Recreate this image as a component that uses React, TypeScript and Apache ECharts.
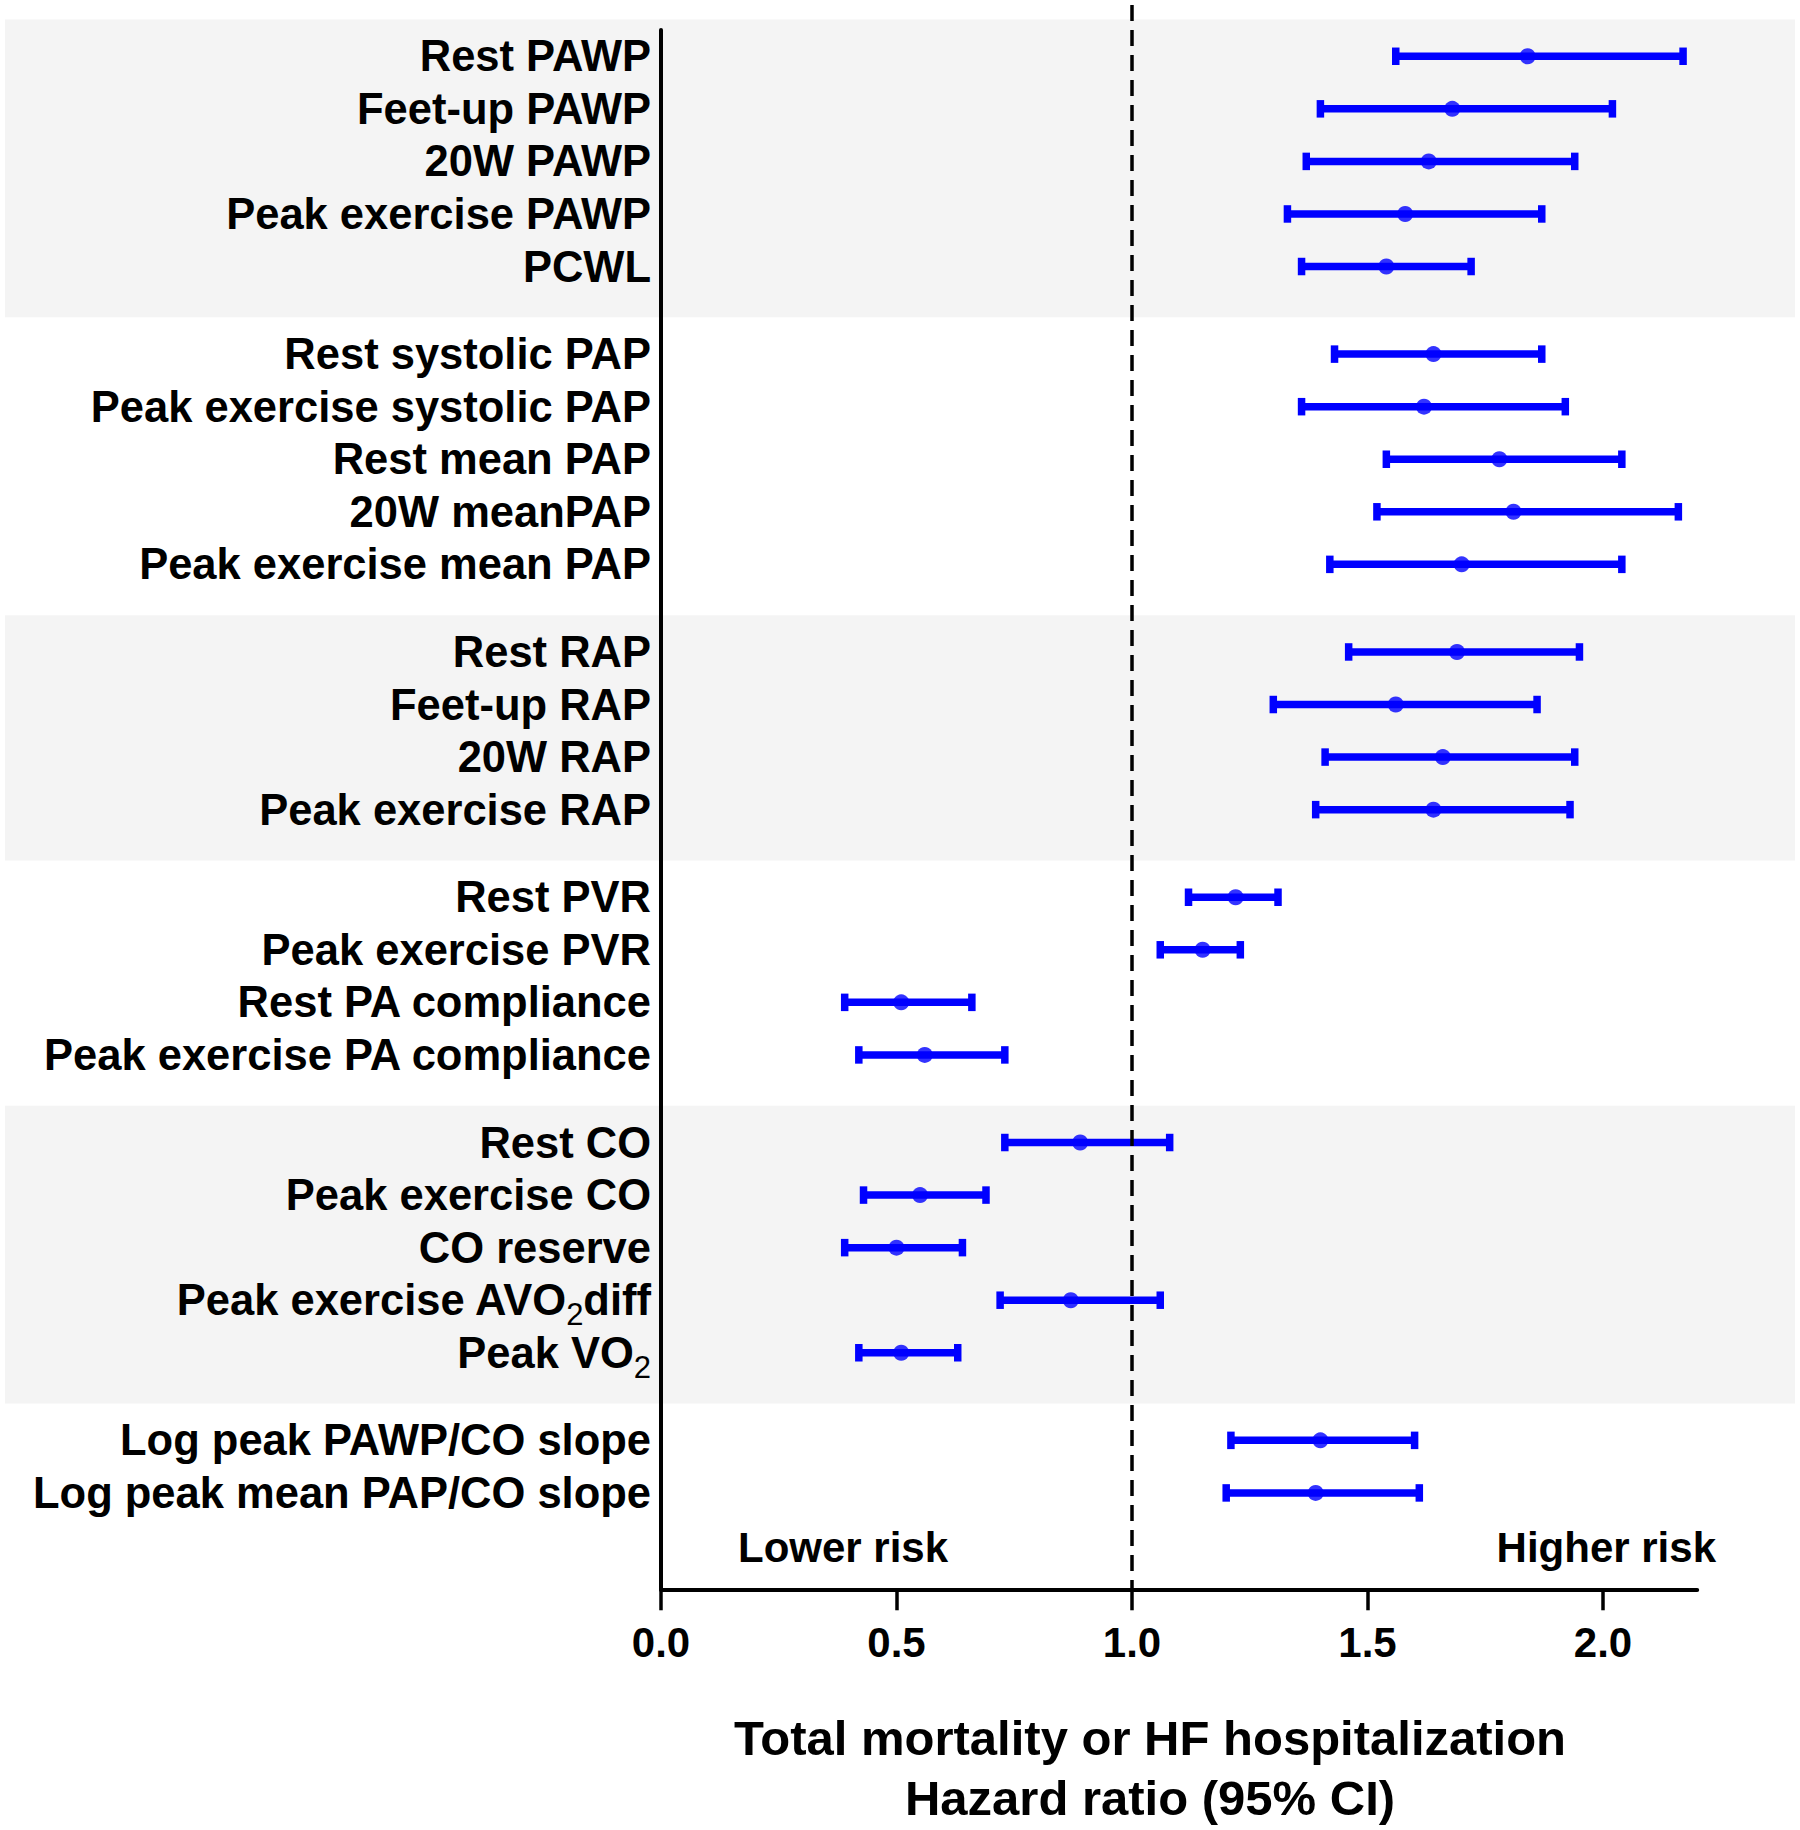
import React, { useEffect, useRef } from 'react';
import * as echarts from 'echarts';

const labels = [
  'Rest PAWP', 'Feet-up PAWP', '20W PAWP', 'Peak exercise PAWP', 'PCWL',
  'Rest systolic PAP', 'Peak exercise systolic PAP', 'Rest mean PAP', '20W meanPAP', 'Peak exercise mean PAP',
  'Rest RAP', 'Feet-up RAP', '20W RAP', 'Peak exercise RAP',
  'Rest PVR', 'Peak exercise PVR', 'Rest PA compliance', 'Peak exercise PA compliance',
  'Rest CO', 'Peak exercise CO', 'CO reserve', 'Peak exercise AVO₂diff', 'Peak VO₂',
  'Log peak PAWP/CO slope', 'Log peak mean PAP/CO slope',
];
const groupSizes = [5, 5, 4, 4, 5, 2];
const shadedGroups = [true, false, true, false, true, false];

const hazardRatio = [1.84, 1.68, 1.63, 1.58, 1.54, 1.64, 1.62, 1.78, 1.81, 1.70, 1.69, 1.56, 1.66, 1.64, 1.22, 1.15, 0.51, 0.56, 0.89, 0.55, 0.50, 0.87, 0.51, 1.40, 1.39];
const ciLower = [1.56, 1.40, 1.37, 1.33, 1.36, 1.43, 1.36, 1.54, 1.52, 1.42, 1.46, 1.30, 1.41, 1.39, 1.12, 1.06, 0.39, 0.42, 0.73, 0.43, 0.39, 0.72, 0.42, 1.21, 1.20];
const ciUpper = [2.17, 2.02, 1.94, 1.87, 1.72, 1.87, 1.92, 2.04, 2.16, 2.04, 1.95, 1.86, 1.94, 1.93, 1.31, 1.23, 0.66, 0.73, 1.08, 0.69, 0.64, 1.06, 0.63, 1.60, 1.61];

const xTicks = [0, 0.5, 1, 1.5, 2];
const xTickLabels = ['0.0', '0.5', '1.0', '1.5', '2.0'];
const referenceHR = 1;
const axisTitleLines = ['Total mortality or HF hospitalization', 'Hazard ratio (95% CI)'];
const lowerRiskText = 'Lower risk';
const higherRiskText = 'Higher risk';

const FONT = '"Liberation Sans", Arial, Helvetica, sans-serif';
const BLUE = '#0000ff';
const BAND = '#f4f4f4';

// derived layout: rows spaced 3 units, extra 2 units between groups
const groupOfRow: number[] = [];
groupSizes.forEach((n, g) => { for (let k = 0; k < n; k++) groupOfRow.push(g); });
const rowPos = labels.map((_, i) => 3 * i + 2 * groupOfRow[i]);
const Y_MIN = -1.5;
const Y_MAX = 87.5;

const bandData: number[][] = [];
{
  let start = 0;
  groupSizes.forEach((n, g) => {
    if (shadedGroups[g]) bandData.push([rowPos[start] - 2.1, rowPos[start + n - 1] + 2.9]);
    start += n;
  });
}

function labelFormatter(v: number) {
  const i = rowPos.findIndex((p) => Math.abs(p - v) < 0.01);
  if (i < 0) return '';
  const parts = labels[i].split('₂');
  return parts.map((p) => (p ? `{a|${p}}` : '')).join('{s|2}');
}

export default function App() {
  const ref = useRef<HTMLDivElement>(null);
  useEffect(() => {
    if (!ref.current) return;
    const chart = echarts.init(ref.current, undefined, { renderer: 'svg' });
    const option: any = {
      animation: false,
      backgroundColor: '#ffffff',
      grid: { left: 661, right: 1800 - 661 - 2.2 * 471, top: 30, bottom: 1830 - 30 - 89 * 17.52, containLabel: false },
      xAxis: {
        type: 'value',
        min: 0,
        max: 2.2,
        axisLine: { show: true, onZero: false, lineStyle: { color: '#000', width: 4 } },
        axisTick: { show: true, length: 21, customValues: xTicks, lineStyle: { color: '#000', width: 3.5 } },
        axisLabel: {
          customValues: xTicks,
          formatter: (v: number) => {
            const k = xTicks.findIndex((t) => Math.abs(t - v) < 1e-6);
            return k < 0 ? '' : xTickLabels[k];
          },
          fontSize: 42,
          fontWeight: 'bold',
          fontFamily: FONT,
          color: '#000',
          margin: 32,
        },
        splitLine: { show: false },
      },
      yAxis: {
        type: 'value',
        inverse: true,
        min: Y_MIN,
        max: Y_MAX,
        axisLine: { show: true, onZero: false, lineStyle: { color: '#000', width: 4 } },
        axisTick: { show: false },
        splitLine: { show: false },
        axisLabel: {
          customValues: rowPos,
          formatter: labelFormatter,
          margin: 10,
          color: '#000',
          rich: {
            a: { fontSize: 43.5, fontWeight: 'bold', fontFamily: FONT, color: '#000', lineHeight: 60 },
            s: { fontSize: 31, fontWeight: 'normal', fontFamily: FONT, color: '#000', lineHeight: 30, verticalAlign: 'bottom' },
          },
        },
      },
      series: [
        {
          type: 'custom',
          name: 'bands',
          z: -10,
          silent: true,
          clip: false,
          encode: { y: [0, 1] },
          data: bandData,
          renderItem: (params: any, api: any) => {
            const y0 = api.coord([0, api.value(0)])[1];
            const y1 = api.coord([0, api.value(1)])[1];
            return {
              type: 'rect',
              shape: { x: 5, y: y0, width: api.getWidth() - 10, height: y1 - y0 },
              style: { fill: BAND },
            };
          },
        },
        {
          type: 'custom',
          name: 'ci',
          z: 3,
          clip: false,
          encode: { x: [0, 1], y: 2 },
          data: labels.map((_, i) => [ciLower[i], ciUpper[i], rowPos[i]]),
          renderItem: (params: any, api: any) => {
            const lo = api.coord([api.value(0), api.value(2)]);
            const hi = api.coord([api.value(1), api.value(2)]);
            const y = lo[1];
            const ch = 8.75;
            const st = { stroke: BLUE, lineWidth: 7.5 };
            return {
              type: 'group',
              children: [
                { type: 'line', shape: { x1: lo[0], y1: y, x2: hi[0], y2: y }, style: st },
                { type: 'line', shape: { x1: lo[0], y1: y - ch, x2: lo[0], y2: y + ch }, style: st },
                { type: 'line', shape: { x1: hi[0], y1: y - ch, x2: hi[0], y2: y + ch }, style: st },
              ],
            };
          },
        },
        {
          type: 'scatter',
          name: 'HR',
          z: 4,
          symbol: 'circle',
          symbolSize: 16,
          itemStyle: { color: BLUE },
          data: labels.map((_, i) => [hazardRatio[i], rowPos[i]]),
        },
        {
          type: 'custom',
          name: 'ref',
          z: 6,
          clip: false,
          encode: { x: 0 },
          data: [[referenceHR]],
          renderItem: (params: any, api: any) => {
            const bottom = api.coord([api.value(0), Y_MAX]);
            const top = api.coord([api.value(0), Y_MIN]);
            return {
              type: 'line',
              shape: { x1: bottom[0], y1: top[1] - 25, x2: bottom[0], y2: bottom[1] },
              style: { stroke: '#000', lineWidth: 3.5, lineDash: [16, 9] },
            };
          },
        },
      ],
      graphic: [
        {
          type: 'text',
          x: 738,
          y: 1547,
          style: {
            text: lowerRiskText,
            fontSize: 42, fontWeight: 'bold', fontFamily: FONT, fill: '#000',
            textAlign: 'left', align: 'left', textVerticalAlign: 'middle', verticalAlign: 'middle',
          },
        },
        {
          type: 'text',
          x: 1716,
          y: 1547,
          style: {
            text: higherRiskText,
            fontSize: 42, fontWeight: 'bold', fontFamily: FONT, fill: '#000',
            textAlign: 'right', align: 'right', textVerticalAlign: 'middle', verticalAlign: 'middle',
          },
        },
        {
          type: 'text',
          x: 1150,
          y: 1768,
          style: {
            text: axisTitleLines.join('\n'),
            fontSize: 49, fontWeight: 'bold', fontFamily: FONT, fill: '#000', lineHeight: 60,
            textAlign: 'center', align: 'center', textVerticalAlign: 'middle', verticalAlign: 'middle',
          },
        },
      ],
    };
    chart.setOption(option);
    return () => chart.dispose();
  }, []);
  return (
    <div
      ref={ref}
      style={{ position: 'absolute', left: 0, top: 0, width: 1800, height: 1830, background: '#fff' }}
    />
  );
}
